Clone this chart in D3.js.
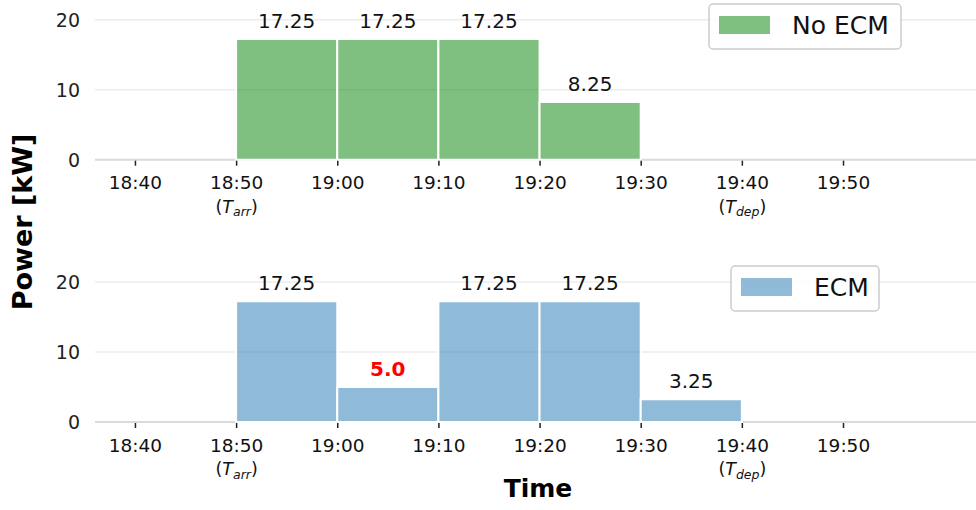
<!DOCTYPE html>
<html>
<head>
<meta charset="utf-8">
<script src="https://cdn.jsdelivr.net/npm/d3@7"></script>
<style>
  html, body { margin: 0; padding: 0; background: #fff; }
  svg { display: block; font-family: "DejaVu Sans", sans-serif; }
</style>
</head>
<body>
<svg id="chart" width="976" height="510"></svg>
<script>
// Charging power per 10-minute slot, with and without ECM
const slotStarts = ["18:50", "19:00", "19:10", "19:20", "19:30"];
const noEcmPower = [17.25, 17.25, 17.25, 8.25];
const ecmPower = [17.25, 5.0, 17.25, 17.25, 3.25];
const ecmHighlight = [false, true, false, false, false];
const tickTimes = ["18:40", "18:50", "19:00", "19:10", "19:20", "19:30", "19:40", "19:50"];
const tickSubs = { "18:50": "arr", "19:40": "dep" };
const yTicks = [0, 10, 20];
const seriesNames = ["No ECM", "ECM"];

const parse = s => { const [h, m] = s.split(":").map(Number); return new Date(2024, 0, 1, h, m); };
const addMin = (d, m) => new Date(d.getTime() + m * 60000);

const svg = d3.select("#chart");
const plotLeft = 95, plotRight = 976;

const x = d3.scaleTime()
  .domain([parse("18:36"), parse("20:03")])
  .range([94.5, 974.5]);

const panels = [
  { name: seriesNames[0], values: noEcmPower, highlight: [], fill: "#008000", opacity: 0.5,
    y: d3.scaleLinear().domain([0, 20]).range([159.7, 19.7]),
    legend: { x: 709, y: 4, w: 192, h: 45 } },
  { name: seriesNames[1], values: ecmPower, highlight: ecmHighlight, fill: "#1f77b4", opacity: 0.5,
    y: d3.scaleLinear().domain([0, 20]).range([422, 282]),
    legend: { x: 731, y: 266, w: 148, h: 45 } }
];

const fmt = v => Number.isInteger(v) ? v.toFixed(1) : String(v);

panels.forEach(p => {
  const g = svg.append("g");
  const y = p.y;

  // horizontal gridlines
  g.selectAll("line.grid").data(yTicks).join("line")
    .attr("x1", plotLeft).attr("x2", plotRight)
    .attr("y1", d => y(d)).attr("y2", d => y(d))
    .attr("stroke", d => d === 0 ? "#dadada" : "#ececec")
    .attr("stroke-width", d => d === 0 ? 2 : 1.5);

  // y tick labels
  g.selectAll("text.ytick").data(yTicks).join("text")
    .attr("x", 80).attr("y", d => y(d))
    .attr("dy", "0.36em")
    .attr("text-anchor", "end")
    .style("font-size", "19px")
    .attr("fill", "#222")
    .text(d => d);

  // bars
  const bars = p.values.map((v, i) => ({ t0: parse(slotStarts[i]), v, hi: !!p.highlight[i] }));
  g.selectAll("rect.bar").data(bars).join("rect")
    .attr("x", d => x(d.t0))
    .attr("width", d => x(addMin(d.t0, 10)) - x(d.t0))
    .attr("y", d => y(d.v))
    .attr("height", d => y(0) - y(d.v))
    .attr("fill", p.fill).attr("fill-opacity", p.opacity)
    .attr("stroke", "#fff").attr("stroke-width", 2);

  // value labels
  g.selectAll("text.val").data(bars).join("text")
    .attr("x", d => (x(d.t0) + x(addMin(d.t0, 10))) / 2)
    .attr("y", d => y(d.v) - 11)
    .attr("text-anchor", "middle")
    .style("font-size", "20px")
    .attr("font-weight", d => d.hi ? "bold" : "normal")
    .attr("fill", d => d.hi ? "#ff0000" : "#111")
    .text(d => fmt(d.v));

  // x axis
  const axis = d3.axisBottom(x)
    .tickValues(tickTimes.map(parse))
    .tickSize(5)
    .tickPadding(6)
    .tickFormat(d3.timeFormat("%H:%M"));
  const ax = g.append("g").attr("transform", `translate(0,${y(0) + 1})`).call(axis);
  ax.attr("font-family", null).attr("font-size", null);
  ax.select(".domain").remove();
  ax.selectAll(".tick line").attr("stroke", "#222").attr("stroke-width", 1.5);
  ax.selectAll(".tick text")
    .style("font-family", "'DejaVu Sans', sans-serif").style("font-size", "18.5px").attr("fill", "#111")
    .attr("dy", "0.95em");

  // arrival / departure annotations under the tick labels
  ax.selectAll(".tick").each(function(d) {
    const key = d3.timeFormat("%H:%M")(d);
    if (!tickSubs[key]) return;
    const t = d3.select(this).append("text")
      .attr("y", 52).attr("text-anchor", "middle")
      .style("font-family", "'DejaVu Sans', sans-serif").style("font-size", "17.5px").attr("fill", "#111");
    t.append("tspan").text("(");
    t.append("tspan").attr("font-style", "oblique").text("T");
    t.append("tspan").attr("font-style", "oblique").style("font-size", "12.5px")
      .attr("dy", 3.5).text(tickSubs[key]);
    t.append("tspan").attr("dy", -3.5).text(")");
  });

  // legend
  const L = p.legend;
  const lg = g.append("g");
  lg.append("rect").attr("x", L.x).attr("y", L.y).attr("width", L.w).attr("height", L.h)
    .attr("rx", 4).attr("fill", "#fff").attr("fill-opacity", 0.85)
    .attr("stroke", "#cccccc").attr("stroke-width", 1.5);
  lg.append("rect").attr("x", L.x + 10).attr("y", L.y + 12).attr("width", 51).attr("height", 18)
    .attr("fill", p.fill).attr("fill-opacity", p.opacity);
  lg.append("text").attr("x", L.x + 83).attr("y", L.y + 30)
    .style("font-size", "25px").attr("fill", "#111").text(p.name);
});

// shared axis titles
svg.append("text")
  .attr("transform", "translate(32,222) rotate(-90)")
  .attr("text-anchor", "middle")
  .style("font-size", "27px").attr("font-weight", "bold").attr("fill", "#000")
  .text("Power [kW]");

svg.append("text")
  .attr("x", 538).attr("y", 497)
  .attr("text-anchor", "middle")
  .style("font-size", "25px").attr("font-weight", "bold").attr("fill", "#000")
  .text("Time");
</script>
</body>
</html>
